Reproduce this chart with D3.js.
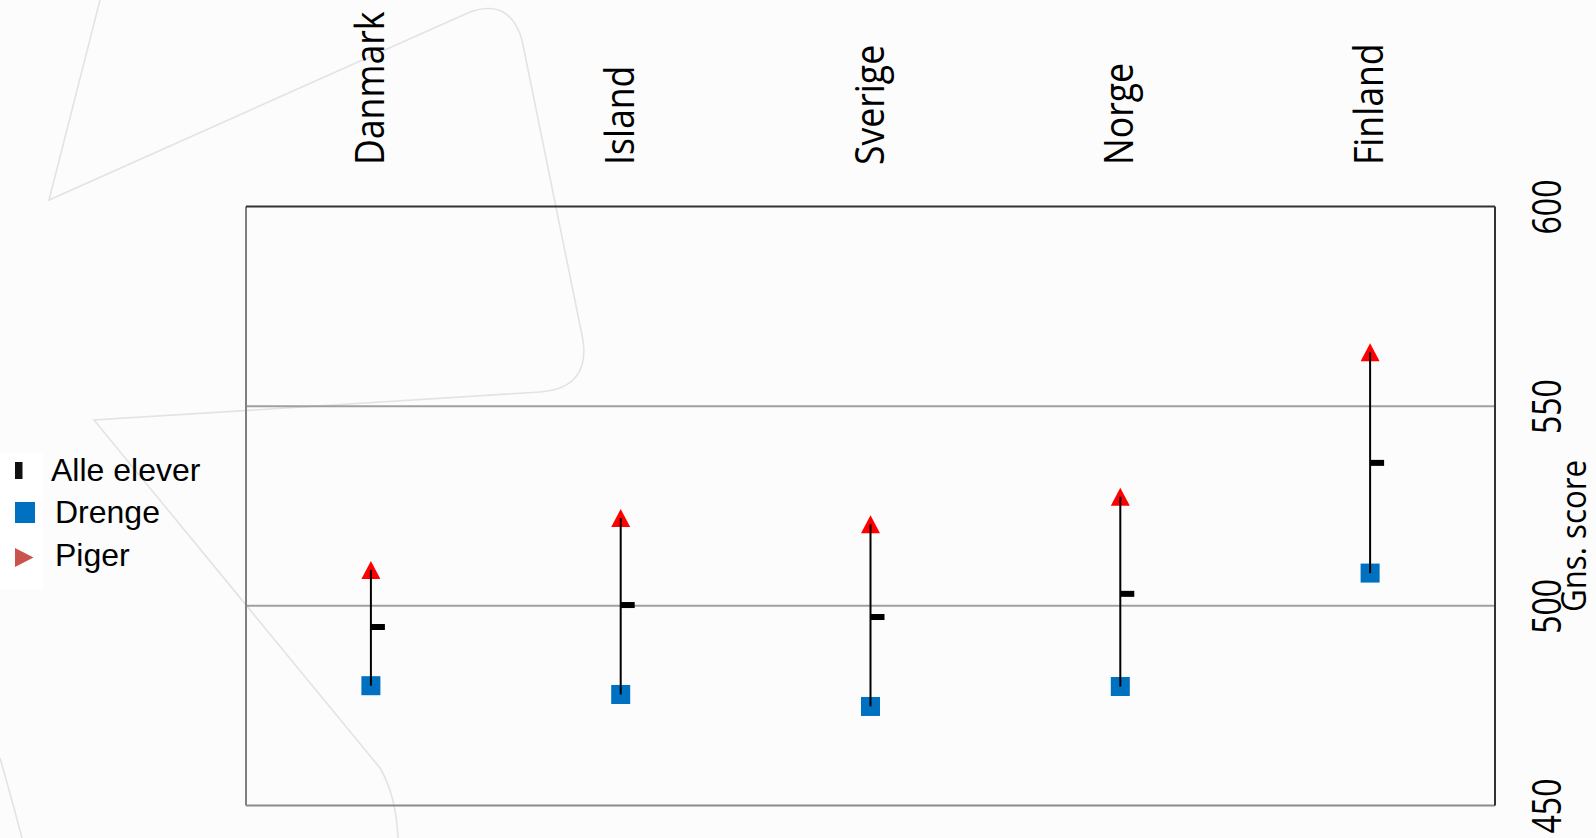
<!DOCTYPE html>
<html>
<head>
<meta charset="utf-8">
<script src="https://cdn.jsdelivr.net/npm/d3@7"></script>
<style>
  html, body { margin: 0; padding: 0; background: #fcfcfc; }
  svg { display: block; }
</style>
</head>
<body>
<svg id="chart" width="1596" height="838"></svg>
<script>
// ---- data ----
const categories = ["Danmark", "Island", "Sverige", "Norge", "Finland"];
const alleElever = [494.7, 500.2, 497.2, 503.0, 535.8];
const drenge     = [480.0, 477.8, 474.8, 479.8, 508.2];
const piger      = [509.0, 522.0, 520.4, 527.3, 563.5];
const yTicks = [450, 500, 550, 600];
const yGrid = [500, 550];
const axisTitle = "Gns. score";
const legendLabels = ["Alle elever", "Drenge", "Piger"];

// ---- setup ----
const W = 1596, H = 838;
const svg = d3.select("#chart");
const plot = { left: 246, right: 1495, top: 206.5, bottom: 805.5 };

svg.append("rect").attr("width", W).attr("height", H).attr("fill", "#fcfcfc");

// decorative watermark lines
const deco = svg.append("g").attr("fill", "none").attr("stroke", "#e3e3e3").attr("stroke-width", 1.6);
const p1 = d3.path();
p1.moveTo(100, 0); p1.lineTo(49, 200); p1.lineTo(470, 12);
p1.quadraticCurveTo(510, -2, 522, 40);
p1.lineTo(583, 340);
p1.quadraticCurveTo(590, 388, 540, 392);
p1.lineTo(94, 420);
p1.lineTo(380, 768);
p1.quadraticCurveTo(396, 795, 398, 838);
deco.append("path").attr("d", p1.toString());
const p2 = d3.path();
p2.moveTo(0, 758); p2.quadraticCurveTo(12, 800, 22, 838);
deco.append("path").attr("d", p2.toString());

const x = d3.scaleBand().domain(categories).range([plot.left, plot.right]);
const y = d3.scaleLinear().domain([450, 600]).range([plot.bottom, plot.top]);
const cx = c => x(c) + x.bandwidth() / 2;

// gridlines
svg.append("g").selectAll("line").data(yGrid).join("line")
  .attr("x1", plot.left).attr("x2", plot.right)
  .attr("y1", d => y(d)).attr("y2", d => y(d))
  .attr("stroke", "#a0a0a0").attr("stroke-width", 2);

// frame
const frame = svg.append("g").attr("stroke-width", 2);
frame.append("line").attr("x1", plot.left).attr("x2", plot.left).attr("y1", y(600)).attr("y2", y(450)).attr("stroke", "#808080");
frame.append("line").attr("x1", plot.left).attr("x2", plot.right).attr("y1", y(450)).attr("y2", y(450)).attr("stroke", "#8a8a8a");
frame.append("line").attr("x1", plot.left).attr("x2", plot.right).attr("y1", y(600)).attr("y2", y(600)).attr("stroke", "#333");
frame.append("line").attr("x1", plot.right).attr("x2", plot.right).attr("y1", y(600)).attr("y2", y(450)).attr("stroke", "#333");

// y axis labels on the right (rotated)
const yAxis = d3.axisRight(y).tickValues(yTicks).tickSize(0).tickFormat(d3.format("d"));
const ag = svg.append("g").attr("transform", "translate(1561,0)").call(yAxis);
ag.select(".domain").remove();
ag.selectAll("text")
  .attr("x", 0).attr("dy", 0)
  .attr("text-anchor", "middle")
  .attr("transform", "rotate(-90) scale(0.78,1)")
  .attr("font-family", "'Open Sans', sans-serif")
  .attr("font-size", 41)
  .attr("fill", "#000");

svg.append("text")
  .attr("transform", `translate(1586,${(y(500) + y(550)) / 2 + 30}) rotate(-90) scale(0.92,1)`)
  .attr("text-anchor", "middle")
  .attr("font-family", "'Open Sans', sans-serif")
  .attr("font-size", 34)
  .attr("fill", "#000")
  .text(axisTitle);

// category labels (rotated) at top
svg.append("g").selectAll("text").data(categories).join("text")
  .attr("transform", d => `translate(${cx(d) + 13},165) rotate(-90) scale(0.89,1)`)
  .attr("text-anchor", "start")
  .attr("font-family", "'Open Sans', sans-serif")
  .attr("font-size", 40)
  .attr("fill", "#000")
  .text(d => d);

// marks
const rows = categories.map((c, i) => ({ c, a: alleElever[i], d: drenge[i], p: piger[i] }));
const marks = svg.append("g");
const sq = 19;
marks.selectAll("rect.drenge").data(rows).join("rect").attr("class", "drenge")
  .attr("x", r => cx(r.c) - sq / 2).attr("y", r => y(r.d) - sq / 2)
  .attr("width", sq).attr("height", sq).attr("fill", "#0070C0");
marks.selectAll("path.piger").data(rows).join("path").attr("class", "piger")
  .attr("d", r => { const p = d3.path(); const X = cx(r.c), Y = y(r.p);
    p.moveTo(X, Y - 9); p.lineTo(X + 9.5, Y + 9); p.lineTo(X - 9.5, Y + 9); p.closePath(); return p.toString(); })
  .attr("fill", "#FF0000");
marks.selectAll("line.range").data(rows).join("line").attr("class", "range")
  .attr("x1", r => cx(r.c)).attr("x2", r => cx(r.c))
  .attr("y1", r => y(r.p)).attr("y2", r => y(r.d))
  .attr("stroke", "#000").attr("stroke-width", 2);
marks.selectAll("rect.alle").data(rows).join("rect").attr("class", "alle")
  .attr("x", r => cx(r.c)).attr("y", r => y(r.a) - 3)
  .attr("width", 14).attr("height", 6).attr("fill", "#000");

// legend
const lg = svg.append("g");
lg.append("rect").attr("x", 0).attr("y", 453).attr("width", 43).attr("height", 137).attr("fill", "#ffffff");
lg.append("rect").attr("x", 15).attr("y", 462).attr("width", 7.5).attr("height", 17).attr("fill", "#111");
lg.append("rect").attr("x", 15).attr("y", 502).attr("width", 20).attr("height", 21).attr("fill", "#0070C0");
lg.append("path").attr("d", "M15,548 L33.5,557.5 L15,567 Z").attr("fill", "#C9544C");
const lx = [51, 55, 55], ly = [481, 523, 566];
lg.selectAll("text").data(legendLabels).join("text")
  .attr("x", (d, i) => lx[i]).attr("y", (d, i) => ly[i])
  .attr("font-family", "'Liberation Sans', Arial, sans-serif")
  .attr("font-size", 32)
  .attr("fill", "#000")
  .text(d => d);
</script>
</body>
</html>
